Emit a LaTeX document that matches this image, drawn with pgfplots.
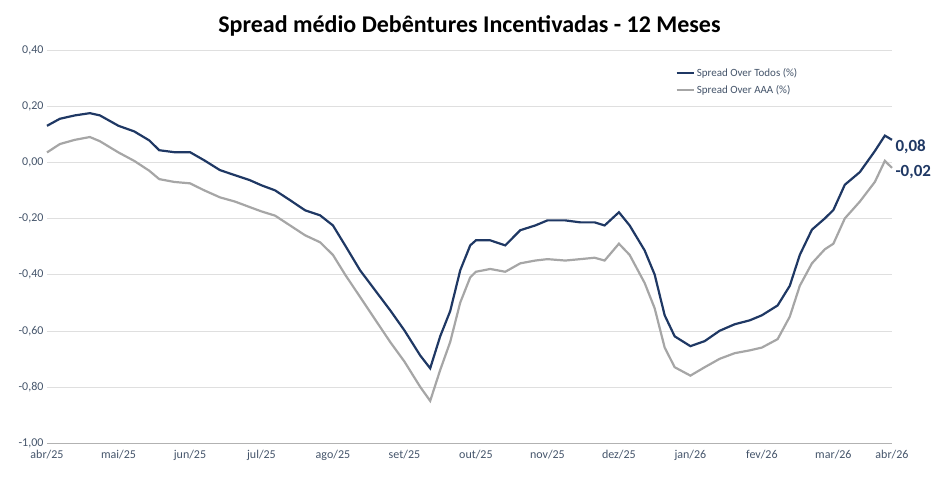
\documentclass[border=0pt]{standalone}
\usepackage{pgfplots}
\pgfplotsset{compat=1.18}
\usepackage{fontspec}
\setmainfont{Carlito}
\definecolor{dk}{HTML}{1F3864}
\definecolor{gr}{HTML}{A6A6A6}
\definecolor{tk}{HTML}{44546A}
\begin{document}
\begin{tikzpicture}
\useasboundingbox (-47pt,-45pt) rectangle (897pt,443pt);
\begin{axis}[
  at={(0,0)}, anchor=south west, clip=false,
  scale only axis, width=845pt, height=393pt,
  xmin=0, xmax=11.82, ymin=-1, ymax=0.4,
  ytick={-1,-0.8,...,0.4},
  xtick={0,1,2,3,4,5,6,7,8,9,10,11,11.82},
  xticklabels={abr/25,mai/25,jun/25,jul/25,ago/25,set/25,out/25,nov/25,dez/25,jan/26,fev/26,mar/26,abr/26},
  yticklabel style={/pgf/number format/.cd,fixed,fixed zerofill,precision=2,use comma,assume math mode=true},
  xticklabel style={yshift=-4pt},
  ticklabel style={font=\fontsize{12}{14}\selectfont, text=tk},
  ymajorgrids, grid style={gray!25},
  axis line style={draw=none},
  tick style={draw=none},
  legend style={at={(0.74,0.965)},anchor=north west,draw=none,font=\fontsize{11}{13}\selectfont,text=tk,row sep=4pt},
  legend cell align=left,
  legend image post style={line width=2.2pt},
  title={\textbf{Spread médio Debêntures Incentivadas - 12 Meses}},
  title style={font=\fontsize{24}{28}\selectfont, yshift=4pt},
]
\draw[gray!60] (axis cs:0,-1) -- (axis cs:11.82,-1);
\addplot[dk, line width=2.2pt] coordinates {(0,0.13)(0.18,0.155)(0.39,0.167)(0.6,0.175)(0.74,0.167)(1.0,0.13)(1.22,0.11)(1.43,0.078)(1.57,0.043)(1.78,0.036)(2.0,0.036)(2.2,0.007)(2.42,-0.028)(2.63,-0.046)(2.84,-0.064)(3.0,-0.082)(3.19,-0.10)(3.4,-0.135)(3.61,-0.171)(3.82,-0.189)(4.0,-0.225)(4.17,-0.296)(4.38,-0.385)(4.59,-0.456)(4.8,-0.527)(5.0,-0.599)(5.22,-0.688)(5.36,-0.734)(5.5,-0.62)(5.64,-0.53)(5.78,-0.385)(5.92,-0.296)(6.0,-0.278)(6.2,-0.278)(6.41,-0.296)(6.62,-0.242)(6.83,-0.225)(7.0,-0.207)(7.25,-0.207)(7.46,-0.214)(7.66,-0.214)(7.8,-0.225)(8.0,-0.178)(8.15,-0.225)(8.36,-0.314)(8.5,-0.40)(8.64,-0.545)(8.78,-0.62)(9.0,-0.655)(9.2,-0.637)(9.41,-0.60)(9.62,-0.577)(9.83,-0.563)(10.0,-0.545)(10.22,-0.51)(10.39,-0.44)(10.53,-0.33)(10.7,-0.24)(10.88,-0.20)(11.0,-0.17)(11.16,-0.08)(11.37,-0.035)(11.58,0.04)(11.72,0.095)(11.82,0.08)};
\addlegendentry{Spread Over Todos (\%)}
\addplot[gr, line width=2.2pt] coordinates {(0,0.035)(0.18,0.065)(0.39,0.08)(0.6,0.09)(0.74,0.075)(1.0,0.035)(1.22,0.005)(1.43,-0.03)(1.57,-0.06)(1.78,-0.07)(2.0,-0.075)(2.2,-0.10)(2.42,-0.125)(2.63,-0.14)(2.84,-0.16)(3.0,-0.175)(3.19,-0.19)(3.4,-0.225)(3.61,-0.26)(3.82,-0.285)(4.0,-0.33)(4.17,-0.40)(4.38,-0.48)(4.59,-0.56)(4.8,-0.64)(5.0,-0.71)(5.22,-0.80)(5.36,-0.85)(5.5,-0.74)(5.64,-0.64)(5.78,-0.50)(5.92,-0.41)(6.0,-0.39)(6.2,-0.38)(6.41,-0.39)(6.62,-0.36)(6.83,-0.35)(7.0,-0.345)(7.25,-0.35)(7.46,-0.345)(7.66,-0.34)(7.8,-0.35)(8.0,-0.29)(8.15,-0.33)(8.36,-0.43)(8.5,-0.52)(8.64,-0.66)(8.78,-0.73)(9.0,-0.76)(9.2,-0.73)(9.41,-0.70)(9.62,-0.68)(9.83,-0.67)(10.0,-0.66)(10.22,-0.63)(10.39,-0.55)(10.53,-0.44)(10.7,-0.36)(10.88,-0.31)(11.0,-0.29)(11.16,-0.20)(11.37,-0.14)(11.58,-0.07)(11.72,0.005)(11.82,-0.02)};
\addlegendentry{Spread Over AAA (\%)}
\node[anchor=west, text=dk, font=\fontsize{17}{20}\selectfont\bfseries] at (axis cs:11.82,0.055) {0,08};
\node[anchor=west, text=dk, font=\fontsize{17}{20}\selectfont\bfseries] at (axis cs:11.82,-0.035) {-0,02};
\end{axis}
\end{tikzpicture}
\end{document}
